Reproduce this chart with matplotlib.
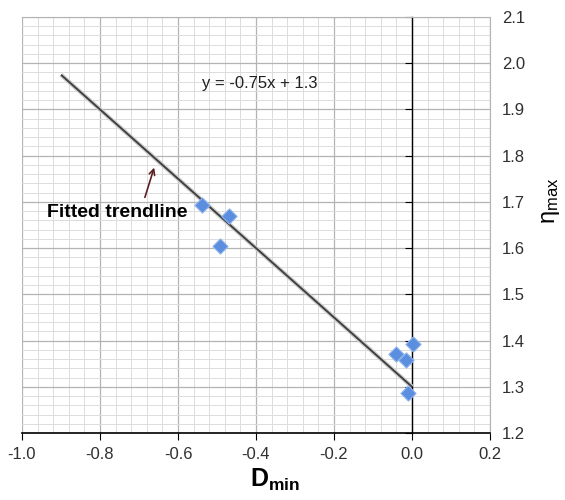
#!/usr/bin/env python

import numpy as np
import matplotlib
matplotlib.use('Agg')
import matplotlib.pyplot as plt
from matplotlib.ticker import MultipleLocator, FormatStrFormatter

plt.rcParams['font.family'] = ['Liberation Sans', 'DejaVu Sans']
plt.rcParams['mathtext.fontset'] = 'custom'
plt.rcParams['mathtext.rm'] = 'Liberation Sans'
plt.rcParams['mathtext.bf'] = 'Liberation Sans:bold'

# measured points
d_min = [-0.539, -0.468, -0.492, 0.002, -0.042, -0.015, -0.009]
eta_max = [1.693, 1.670, 1.605, 1.392, 1.370, 1.357, 1.287]

# trendline y = -0.75x + 1.3
slope, intercept = -0.75, 1.3
fit_x = [-0.9, 0.0]

fig = plt.figure(figsize=(5.65, 5.0), dpi=100)
ax = fig.add_axes([22 / 565, 67 / 500, 468 / 565, 416 / 500])

ax.set_xlim(-1.0, 0.2)
ax.set_ylim(1.2, 2.1)
ax.xaxis.set_major_locator(MultipleLocator(0.2))
ax.xaxis.set_minor_locator(MultipleLocator(0.04))
ax.yaxis.set_major_locator(MultipleLocator(0.1))
ax.yaxis.set_minor_locator(MultipleLocator(0.02))
ax.grid(which='major', color='#b3b3b3', lw=0.9)
ax.grid(which='minor', color='#dcdcdc', lw=0.7)
ax.set_axisbelow(True)

for side in ('top', 'right'):
    ax.spines[side].set_color('#b3b3b3')
ax.axvline(-1.0, color='#b3b3b3', lw=1.2, zorder=0.5)
ax.spines['left'].set_position(('data', 0))
ax.spines['left'].set_color('black')
ax.spines['left'].set_linewidth(1.0)
ax.spines['bottom'].set_color('black')
ax.spines['bottom'].set_linewidth(1.2)

ax.xaxis.set_major_formatter(FormatStrFormatter('%.1f'))
ax.yaxis.set_major_formatter(FormatStrFormatter('%.1f'))
ax.tick_params(axis='x', which='major', direction='out', length=5,
               labelsize=12, labelcolor='#303030', pad=5)
ax.tick_params(axis='y', which='major', left=True, right=False,
               labelleft=False, labelright=True, direction='out', length=5,
               labelsize=12, labelcolor='#303030', pad=3.5)
ax.tick_params(which='minor', length=0)

xs = np.array(fit_x)
ax.plot(xs, slope * xs + intercept, color='#cfcfcf', lw=3.2,
        solid_capstyle='butt', zorder=3)
ax.plot(xs, slope * xs + intercept, color='#404040', lw=1.4,
        solid_capstyle='butt', zorder=3)

ax.scatter(d_min, eta_max, marker='D', s=60, color='#5b8ede',
           edgecolors='#8fb4ef', linewidths=0.8, zorder=4)

ax.text(-0.538, 1.957, 'y = -0.75x + 1.3', fontsize=12, color='#202020',
        ha='left', va='center')
ax.annotate('', xy=(-0.659, 1.780), xytext=(-0.687, 1.704),
            arrowprops=dict(arrowstyle='->', color='#5c1f22', lw=1.2))
ax.text(-0.757, 1.678, 'Fitted trendline', fontsize=14, fontweight='bold',
        ha='center', va='center', color='black')

fig.text(275 / 565, 1 - 480 / 500, r'$\mathbf{D_{min}}$', fontsize=18,
         ha='center', va='center')
fig.text(551 / 565, 1 - 201 / 500, r'$\mathrm{\eta_{max}}$', fontsize=17,
         ha='center', va='center', rotation=90)

fig.savefig('out.png', dpi=100)
